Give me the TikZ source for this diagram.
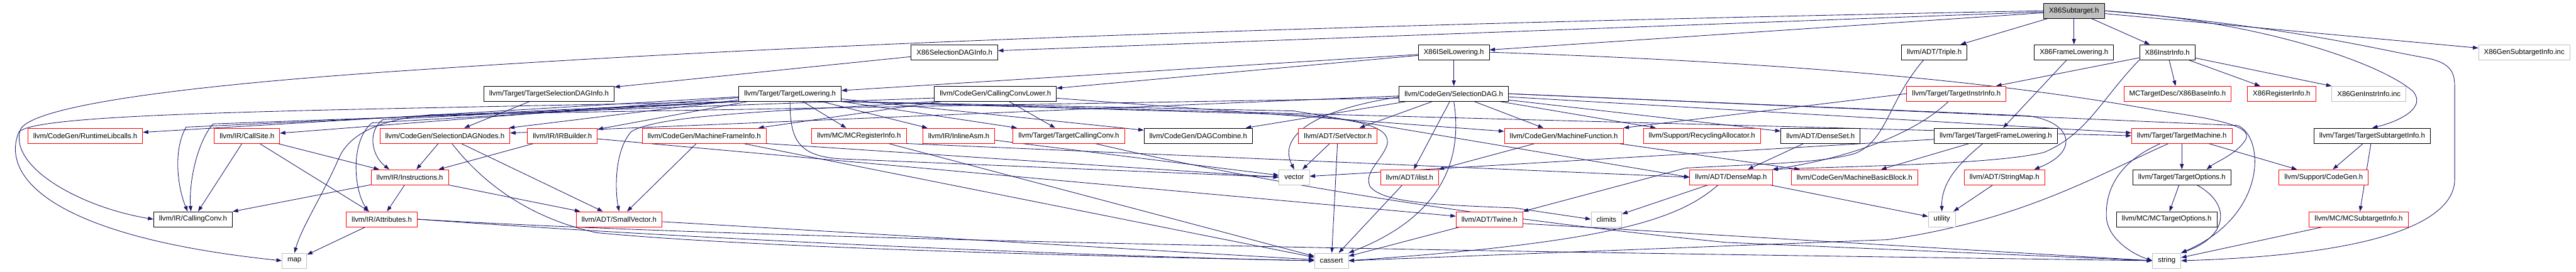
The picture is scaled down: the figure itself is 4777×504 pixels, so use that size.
\documentclass[tikz,border=0pt]{standalone}
\usepackage{fontspec}
\setmainfont{Liberation Sans}
\usetikzlibrary{arrows.meta,calc}
\definecolor{edgeblue}{RGB}{25,25,112}
\definecolor{leafgray}{RGB}{191,191,191}
\pgfdeclarelayer{bg}
\pgfsetlayers{bg,main}
\begin{document}
\begin{tikzpicture}[x=1pt,y=-1pt,
  nb/.style={draw=black, line width=1pt, rectangle, minimum height=28pt, inner xsep=10pt, inner ysep=0pt, font=\fontsize{13.3}{16}\selectfont, fill=white},
  nr/.style={nb, draw=red},
  ng/.style={nb, draw=leafgray},
  nroot/.style={nb, fill=leafgray},
  e/.style={draw=edgeblue, line width=1pt, -{Triangle[length=10pt,width=7pt]}},
]
\useasboundingbox (0,0) rectangle (4777,504);
% row 1
\node[nroot] (sub) at (3846,20) {X86Subtarget.h};
% row 2
\node[nb] (x86sdag) at (1770,97) {X86SelectionDAGInfo.h};
\node[nb] (x86isel) at (2696,97) {X86ISelLowering.h};
\node[nb] (triple) at (3587,97) {llvm/ADT/Triple.h};
\node[nb] (x86frame) at (3846,97) {X86FrameLowering.h};
\node[nb] (x86instr) at (4019,97) {X86InstrInfo.h};
\node[ng] (gensub) at (4681,97) {X86GenSubtargetInfo.inc};
% row 3
\node[nb] (tsdag) at (1018,174) {llvm/Target/TargetSelectionDAGInfo.h};
\node[nb] (tlow) at (1465,174) {llvm/Target/TargetLowering.h};
\node[nb] (cclower) at (1846,174) {llvm/CodeGen/CallingConvLower.h};
\node[nb] (sdag) at (2696,174) {llvm/CodeGen/SelectionDAG.h};
\node[nr] (tinstr) at (3628,174) {llvm/Target/TargetInstrInfo.h};
\node[nr] (baseinfo) at (4038,174) {MCTargetDesc/X86BaseInfo.h};
\node[nr] (reginfo) at (4231,174) {X86RegisterInfo.h};
\node[ng] (geninstr) at (4393,174) {X86GenInstrInfo.inc};
% row 4
\node[nr] (rtlib) at (158,252) {llvm/CodeGen/RuntimeLibcalls.h};
\node[nr] (callsite) at (458,252) {llvm/IR/CallSite.h};
\node[nr] (sdnodes) at (825,252) {llvm/CodeGen/SelectionDAGNodes.h};
\node[nr] (irb) at (1043,252) {llvm/IR/IRBuilder.h};
\node[nr] (mfi) at (1306,252) {llvm/CodeGen/MachineFrameInfo.h};
\node[nr] (mcreg) at (1593,252) {llvm/MC/MCRegisterInfo.h};
\node[nr] (inasm) at (1778,252) {llvm/IR/InlineAsm.h};
\node[nr] (tcc) at (1982,252) {llvm/Target/TargetCallingConv.h};
\node[nb] (dagcomb) at (2222,252) {llvm/CodeGen/DAGCombine.h};
\node[nr] (setvec) at (2481,252) {llvm/ADT/SetVector.h};
\node[nr] (mf) at (2900,252) {llvm/CodeGen/MachineFunction.h};
\node[nr] (recyc) at (3156,252) {llvm/Support/RecyclingAllocator.h};
\node[nb] (denseset) at (3376,252) {llvm/ADT/DenseSet.h};
\node[nb] (tfl) at (3701,252) {llvm/Target/TargetFrameLowering.h};
\node[nr] (tm) at (4046,252) {llvm/Target/TargetMachine.h};
\node[nb] (tsub) at (4399,252) {llvm/Target/TargetSubtargetInfo.h};
% row 5
\node[nr] (instrs) at (760,329) {llvm/IR/Instructions.h};
\node[ng] (vector) at (2400,329) {vector};
\node[nr] (ilist) at (2614,329) {llvm/ADT/ilist.h};
\node[nr] (densemap) at (3210,329) {llvm/ADT/DenseMap.h};
\node[nr] (mbb) at (3439,329) {llvm/CodeGen/MachineBasicBlock.h};
\node[nr] (strmap) at (3717,329) {llvm/ADT/StringMap.h};
\node[nb] (topt) at (4046,329) {llvm/Target/TargetOptions.h};
\node[nr] (cgen) at (4309,329) {llvm/Support/CodeGen.h};
% row 6
\node[nb] (cconv) at (358,407) {llvm/IR/CallingConv.h};
\node[nr] (attrs) at (708,407) {llvm/IR/Attributes.h};
\node[nr] (smallvec) at (1148,407) {llvm/ADT/SmallVector.h};
\node[nr] (twine) at (2762,407) {llvm/ADT/Twine.h};
\node[ng] (climits) at (2979,407) {climits};
\node[ng] (utility) at (3601,407) {utility};
\node[nb] (mctopt) at (4018,407) {llvm/MC/MCTargetOptions.h};
\node[nr] (mcsub) at (4374,407) {llvm/MC/MCSubtargetInfo.h};
% row 7
\node[ng] (map) at (546,484) {map};
\node[ng] (cassert) at (2469,484) {cassert};
\node[ng] (string) at (4018,484) {string};

\begin{pgfonlayer}{bg}
% X86Subtarget.h
\draw[e] (sub) -- (x86sdag);
\draw[e] (sub) -- (x86isel);
\draw[e] (sub) -- (triple);
\draw[e] (sub) -- (x86frame);
\draw[e] (sub) -- (x86instr);
\draw[e] (sub) -- (gensub);
\draw[e] (sub.east) .. controls (4200,40) and (4420,120) .. (4475,170) .. controls (4500,200) and (4450,225) .. (tsub.north);
\draw[e] (sub.east) .. controls (4250,50) and (4400,90) .. (4496,107) .. controls (4540,115) and (4552,130) .. (4552,160) -- (4552,333) .. controls (4552,380) and (4500,470) .. (string.east);
\draw[e] (sub.west) .. controls (2500,45) and (1500,80) .. (800,128) .. controls (300,160) and (60,200) .. (38,240) .. controls (15,310) and (150,385) .. (cconv.west);
% X86SelectionDAGInfo.h
\draw[e] (x86sdag) -- (tsdag);
% X86ISelLowering.h
\draw[e] (x86isel) -- (tlow);
\draw[e] (x86isel) -- (cclower);
\draw[e] (x86isel) -- (sdag);
\draw[e] (x86isel.east) .. controls (3300,115) and (3700,150) .. (4000,205) .. controls (4120,222) and (4175,235) .. (4165,258) .. controls (4150,285) and (4110,300) .. ($(topt.north)+(46,0)$);
% Triple
\draw[e] ($(triple.south)+(-20,0)$) .. controls (3500,190) and (3500,260) .. (3440,285) .. controls (3380,303) and (3250,305) .. (3126,312) -- (twine.north east);
% X86FrameLowering
\draw[e] (x86frame) -- (tfl);
% X86InstrInfo
\draw[e] (x86instr) -- (tinstr);
\draw[e] (x86instr) -- (baseinfo);
\draw[e] (x86instr) -- (reginfo);
\draw[e] (x86instr) -- (geninstr);
\draw[e] (x86instr.south west) .. controls (3900,180) and (3870,250) .. (3790,283) .. controls (3700,305) and (3450,308) .. (densemap.north east);
% TargetSelectionDAGInfo
\draw[e] (tsdag) -- (sdnodes);
% TargetLowering
\draw[e] (tlow) -- (rtlib);
\draw[e] (tlow) -- (callsite);
\draw[e] (tlow) -- (sdnodes);
\draw[e] (tlow) -- (irb);
\draw[e] (tlow) -- (mcreg);
\draw[e] (tlow) -- (inasm);
\draw[e] (tlow) -- (tcc);
\draw[e] (tlow) -- (dagcomb);
\draw[e] (tlow.south east) -- (tm.west);
\draw[e] (tlow.south east) -- (2400,206) -- (densemap.west);
\draw[e] (tlow.south east) -- (2400,213) .. controls (2540,222) and (2580,240) .. (2572,270) .. controls (2560,300) and (2530,320) .. (2540,345) .. controls (2560,375) and (2650,380) .. (2808,386) -- (climits.west);
\draw[e] (tlow.south) .. controls (1465,260) and (1480,290) .. (1560,295) -- (vector.west);
\draw[e] (tlow.south west) -- (345,236) .. controls (320,280) and (330,350) .. ($(cconv.north)+(-10,0)$);
\draw[e] (tlow.south west) -- (710,222) .. controls (680,245) and (690,290) .. ($(instrs.north)+(-38,0)$);
\draw[e] (tlow.south west) -- (690,228) .. controls (650,260) and (655,350) .. ($(attrs.north)+(-25,0)$);
\draw[e] (tlow.south west) -- (800,200) .. controls (300,210) and (60,220) .. (35,245) .. controls (0,330) and (100,440) .. (map.west);
% CallingConvLower
\draw[e] (cclower) -- (mfi);
\draw[e] (cclower) -- (tcc);
\draw[e] (cclower) -- (mf);
\draw[e] (cclower.south west) .. controls (1500,205) and (1220,210) .. (1170,245) .. controls (1140,280) and (1140,350) .. (smallvec.north);
\draw[e] ($(cclower.west)+(0,8)$) -- (395,230) .. controls (365,265) and (350,340) .. ($(cconv.north)+(-4,0)$);
% SelectionDAG
\draw[e] (sdag) -- (sdnodes);
\draw[e] (sdag) -- (dagcomb);
\draw[e] (sdag) -- (setvec);
\draw[e] (sdag) -- (mf);
\draw[e] (sdag) -- (recyc);
\draw[e] (sdag) -- (denseset);
\draw[e] (sdag) -- (ilist);
\draw[e] (sdag) -- (tm);
\draw[e] (sdag.east) -- (3760,215) .. controls (3840,225) and (3860,280) .. ($(strmap.north east)+(-20,0)$);
\draw[e] ($(sdag.west)+(0,6)$) .. controls (2430,205) and (2370,255) .. (vector.north);
\draw[e] (sdag.south) .. controls (2712,290) and (2680,400) .. (cassert.north east);
\draw[e] ($(sdag.west)+(0,8)$) -- (800,213) .. controls (700,222) and (650,250) .. (630,290) .. controls (600,360) and (560,420) .. (map.north);
\draw[e] (sdag.east) -- (4150,233) .. controls (4200,255) and (4205,400) .. (string.north east);
% TargetInstrInfo
\draw[e] (tinstr.west) -- (mf.north east);
\draw[e] ($(tinstr.south)+(-15,0)$) .. controls (3560,240) and (3450,290) .. (densemap.north east);
% row 4 nodes
\draw[e] (callsite) -- (cconv);
\draw[e] (callsite) -- (instrs);
\draw[e] (callsite) -- (attrs);
\draw[e] (sdnodes) -- (instrs);
\draw[e] (sdnodes) -- (smallvec);
\draw[e] ($(sdnodes.south)+(13,0)$) .. controls (880,320) and (960,400) .. (1106,432) .. controls (1400,460) and (2000,475) .. (cassert.west);
\draw[e] (irb) -- (instrs);
\draw[e] (irb) -- (twine);
\draw[e] (mfi) -- (smallvec);
\draw[e] (mfi.south east) -- (vector.west);
\draw[e] (mfi) -- (cassert);
\draw[e] (mcreg.south east) -- (densemap.west);
\draw[e] (mcreg) -- (cassert);
\draw[e] (inasm) -- (vector);
\draw[e] ($(tcc.south)+(49,0)$) .. controls (2300,330) and (2700,400) .. (3200,450) -- (string.west);
\draw[e] (setvec) -- (vector);
\draw[e] (setvec) -- (cassert);
\draw[e] (mf) -- (ilist);
\draw[e] (mf) -- (mbb);
\draw[e] (denseset) -- (densemap);
\draw[e] (tfl) -- (mbb);
\draw[e] (tfl) -- (vector);
\draw[e] ($(tfl.south)+(-24,0)$) .. controls (3630,305) and (3600,340) .. (utility.north);
\draw[e] (tm) -- (topt);
\draw[e] (tm) -- (cgen);
\draw[e] ($(tm.south west)+(69,0)$) .. controls (3900,320) and (3750,410) .. (3500,445) -- (cassert.east);
\draw[e] ($(tm.south west)+(54,0)$) .. controls (3930,300) and (3905,350) .. (3906,400) .. controls (3906,440) and (3950,470) .. (string.west);
\draw[e] (tsub) -- (cgen);
\draw[e] (tsub) -- (mcsub);
% row 5 nodes
\draw[e] (instrs) -- (cconv);
\draw[e] (instrs) -- (attrs);
\draw[e] (instrs) -- (smallvec);
\draw[e] (ilist) -- (cassert);
\draw[e] (densemap) -- (utility);
\draw[e] (densemap) -- (climits);
\draw[e] ($(densemap.south)+(-24,0)$) .. controls (3110,410) and (2980,450) .. (cassert.east);
\draw[e] (strmap) -- (utility);
\draw[e] (topt) -- (mctopt);
\draw[e] ($(topt.south)+(28,0)$) .. controls (4140,380) and (4130,440) .. (string.north east);
% row 6 nodes
\draw[e] (attrs) -- (map);
\draw[e] (attrs.east) .. controls (1300,445) and (2000,475) .. (cassert.west);
\draw[e] (attrs.east) .. controls (1500,450) and (3000,470) .. (string.west);
\draw[e] (smallvec) -- (cassert);
\draw[e] (twine) -- (cassert);
\draw[e] ($(twine.east)+(0,8)$) -- (string.west);
\draw[e] (mcsub) -- (string);
\end{pgfonlayer}
\end{tikzpicture}
\end{document}
